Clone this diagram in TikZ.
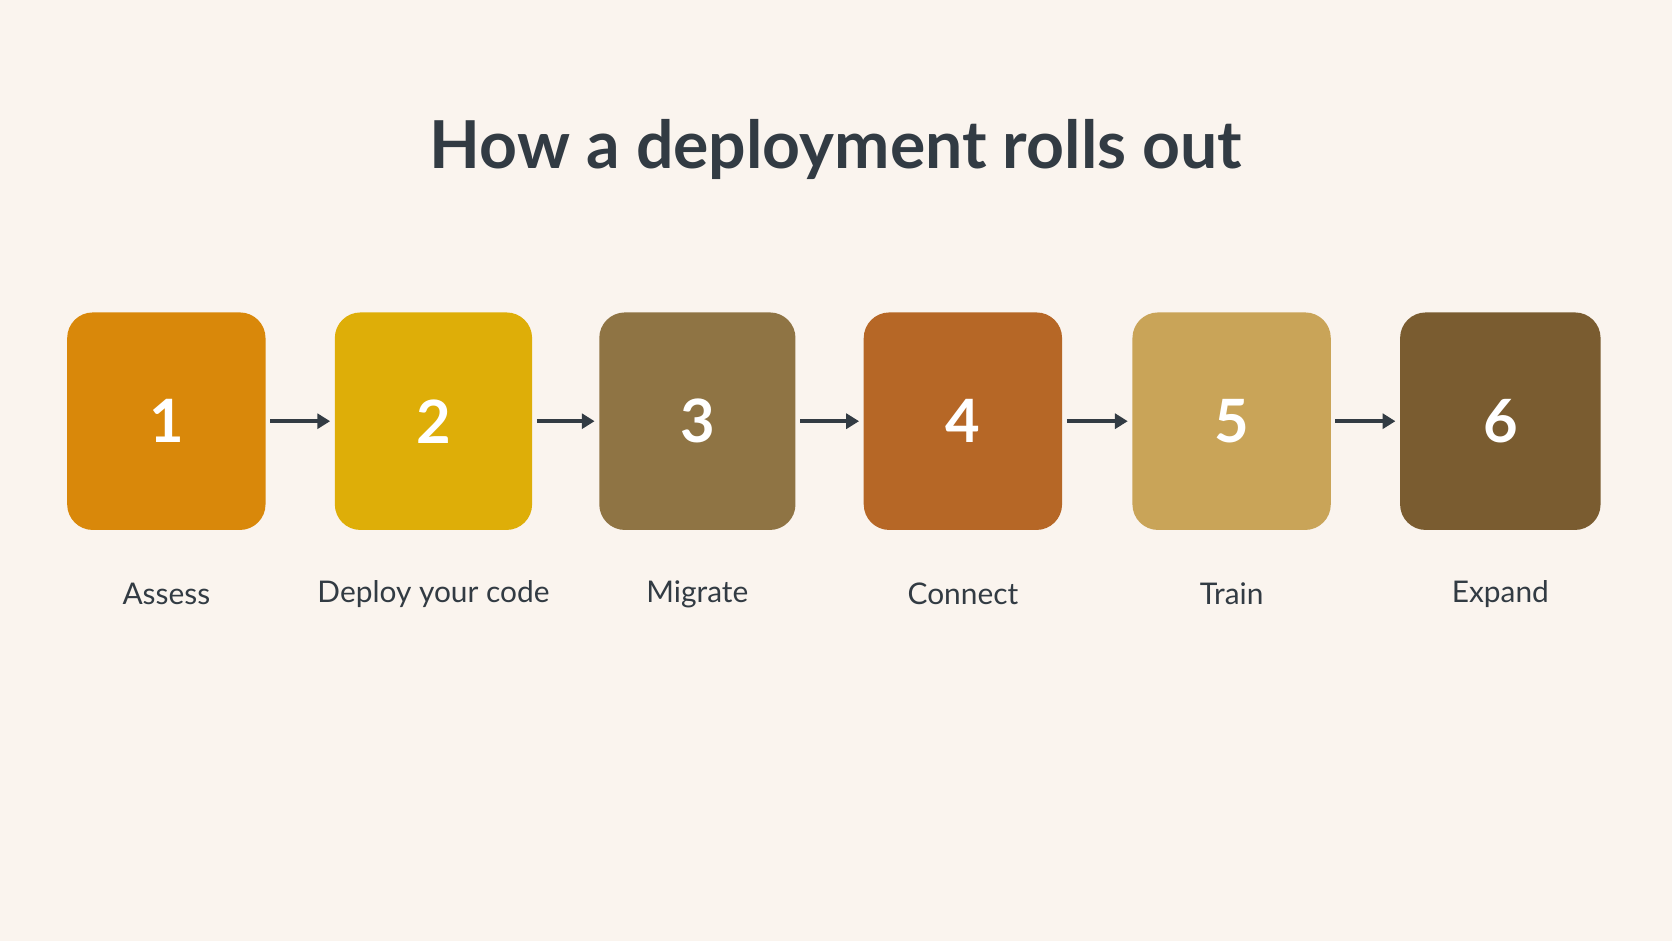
\documentclass[tikz,border=0pt]{standalone}
\usepackage{fontspec}
\setmainfont{Lato}
\usetikzlibrary{arrows.meta}
\definecolor{bg}{HTML}{FAF4EE}
\definecolor{ink}{HTML}{323B43}
\definecolor{c1}{HTML}{D9880A}
\definecolor{c2}{HTML}{DEAE08}
\definecolor{c3}{HTML}{8F7444}
\definecolor{c4}{HTML}{B66726}
\definecolor{c5}{HTML}{C9A458}
\definecolor{c6}{HTML}{7A5C30}
\begin{document}
\begin{tikzpicture}[x=0.5pt,y=-0.5pt,
  box/.style={rounded corners=12pt,minimum width=93pt,minimum height=102pt,inner sep=0pt,text=white,font=\fontsize{28}{30}\selectfont\bfseries},
  lab/.style={text=ink,font=\fontsize{14}{16}\selectfont},
  arr/.style={draw=ink,line width=1.6pt,-{Triangle[length=6pt,width=7pt]},shorten <=2pt,shorten >=2pt}]
\fill[bg] (0,0) rectangle (1568,882);
\useasboundingbox (0,0) rectangle (1568,882);
\node[text=ink,font=\fontsize{31}{34}\selectfont\bfseries] (title) at (784,140) {How a deployment rolls out};
\foreach \i/\x/\w/\c/\t in {1/156/93/c1/Assess,2/406.5/92.5/c2/Deploy your code,3/654/92/c3/Migrate,4/903/93/c4/Connect,5/1155/93/c5/Train,6/1407/94/c6/Expand}{
  \node[box,fill=\c,minimum width=\w pt] (b\i) at (\x,395) {\i};
  \node[lab] (l\i) at (\x,557) {\t};
}
\foreach \a/\b in {1/2,2/3,3/4,4/5,5/6}{\draw[arr] (b\a.east) -- (b\b.west);}
\end{tikzpicture}
\end{document}
